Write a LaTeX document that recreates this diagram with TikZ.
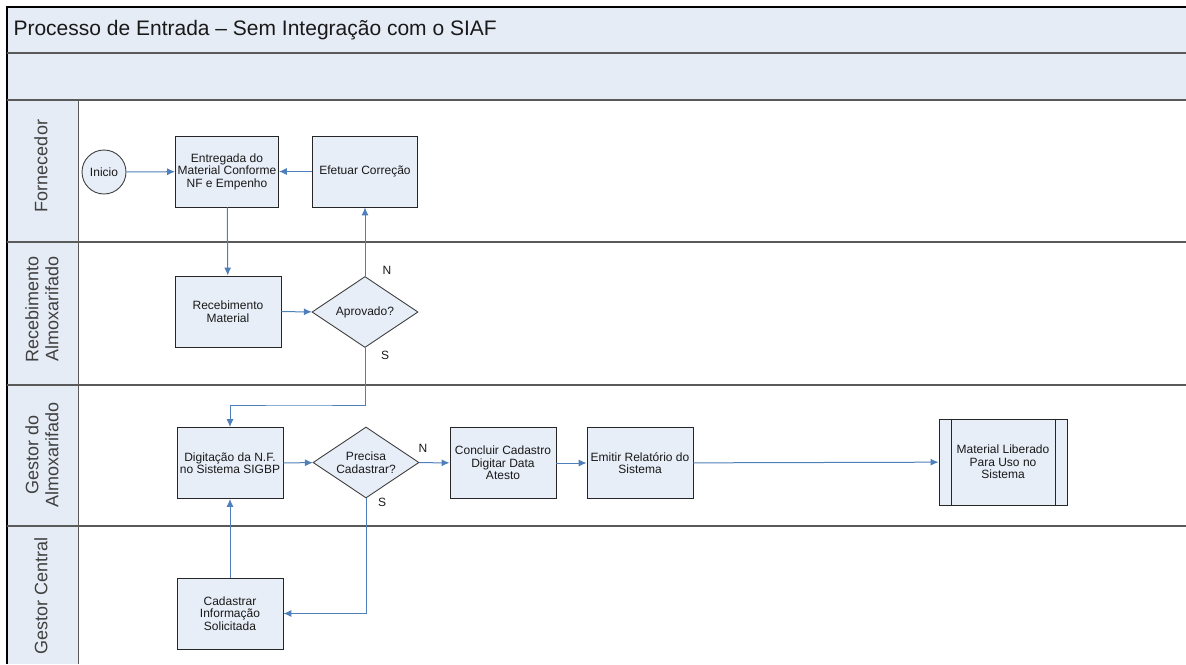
\documentclass[tikz,border=0pt]{standalone}
\usepackage{fontspec}
\setmainfont{Liberation Sans}
\usetikzlibrary{shapes.geometric,arrows.meta}
\definecolor{lanefill}{HTML}{E6ECF6}
\definecolor{boxfill}{HTML}{E8EEF8}
\definecolor{flowblue}{HTML}{4F7FBA}
\definecolor{lanerule}{HTML}{5A5A5A}

\begin{document}
\begin{tikzpicture}[x=1pt,y=-1pt,
		every node/.style={font=\fontsize{12}{12.5}\selectfont,text=black!90},
		task/.style={draw=black!85,line width=0.9pt,fill=boxfill,minimum width=106pt,minimum height=71pt,inner sep=1pt,align=center},
		decision/.style={diamond,draw=black!75,line width=0.9pt,fill=boxfill,minimum width=106pt,minimum height=71pt,inner sep=0pt,shape aspect=1.5,align=center},
		terminal/.style={circle,draw=black!75,line width=0.9pt,fill=boxfill,minimum size=44pt,inner sep=0pt},
		flow/.style={draw=flowblue,line width=1pt,-{Latex[length=8pt,width=7pt]}},
		lanelabel/.style={rotate=90,font=\fontsize{18}{20}\selectfont,align=center,text=black!75},
		lanerule/.style={draw=lanerule,line width=1.6pt}]
		\useasboundingbox (0,0) rectangle (1186,664);
		% pool and lanes
		\fill[lanefill] (7,7) rectangle (1186,100);
		\fill[lanefill] (7,100) rectangle (78,664);
		\draw[line width=1.5pt] (1186,7) -- (7,7) -- (7,664);
		\draw[lanerule] (7,53) -- (1186,53);
		\draw[lanerule,line width=2.4pt] (7,100) -- (1186,100);
		\foreach \y in {242,385,526}
			\draw[lanerule] (7,\y) -- (1186,\y);
		\draw[lanerule,line width=1pt] (78,100) -- (78,664);
		\node[anchor=base west,font=\fontsize{21}{24}\selectfont] (titulo) at (10,35) {Processo de Entrada – Sem Integração com o SIAF};
		\node[lanelabel] (fornecedor) at (41,166) {Fornecedor};
		\node[lanelabel] (recebimentoAlmox) at (42,309) {Recebimento\\Almoxarifado};
		\node[lanelabel] (gestorAlmox) at (42,455) {Gestor do\\Almoxarifado};
		\node[lanelabel] (gestorCentral) at (41,596) {Gestor Central};
		% steps
		\node[terminal] (inicio) at (104,172) {Inicio};
		\node[task,minimum width=103pt] (entregada) at (227,171.5) {Entregada do\\Material Conforme\\NF e Empenho};
		\node[task,minimum width=105pt] (efetuar) at (365,171.5) {Efetuar Correção};
		\node[task] (recebimento) at (228,311.5) {Recebimento\\Material};
		\node[decision] (aprovado) at (365,312) {Aprovado?};
		\node[task] (digitacao) at (230,463) {Digitação da N.F.\\no Sistema SIGBP};
		\node[decision] (precisa) at (366,462.5) {Precisa\\Cadastrar?};
		\node[task] (concluir) at (503,463) {Concluir Cadastro\\Digitar Data\\Atesto};
		\node[task] (emitir) at (640,463) {Emitir Relatório do\\Sistema};
		\node[task,minimum width=128pt,minimum height=86pt] (liberado) at (1003,462) {Material Liberado\\Para Uso no\\Sistema};
		\draw[black!85,line width=0.9pt] ([xshift=13pt]liberado.north west) -- ([xshift=13pt]liberado.south west);
		\draw[black!85,line width=0.9pt] ([xshift=-12pt]liberado.north east) -- ([xshift=-12pt]liberado.south east);
		\node[task] (cadastrar) at (230,613.5) {Cadastrar\\Informação\\Solicitada};
		\coordinate (desvio) at (300,405);
		% flows
		\draw[flow] (inicio) -- (entregada);
		\draw[flow] (efetuar) -- (entregada);
		\draw[flow] (entregada) -- (recebimento);
		\draw[flow] (recebimento) -- (aprovado);
		\draw[flow] (aprovado.north) -- (efetuar.south);
		\draw[flow] (aprovado.south) |- (desvio) -| (digitacao.north);
		\draw[flow] (digitacao) -- (precisa);
		\draw[flow] (precisa) -- (concluir);
		\draw[flow] (concluir) -- (emitir);
		\draw[flow] (emitir) -- (liberado);
		\draw[flow] (precisa.south) |- (cadastrar.east);
		\draw[flow] (cadastrar) -- (digitacao);
		\node (simAprov) at (385,355) {S};
		\node (naoAprov) at (387,270) {N};
		\node (naoPrecisa) at (423,448) {N};
		\node (simPrecisa) at (382,502) {S};
	\end{tikzpicture}
\end{document}
